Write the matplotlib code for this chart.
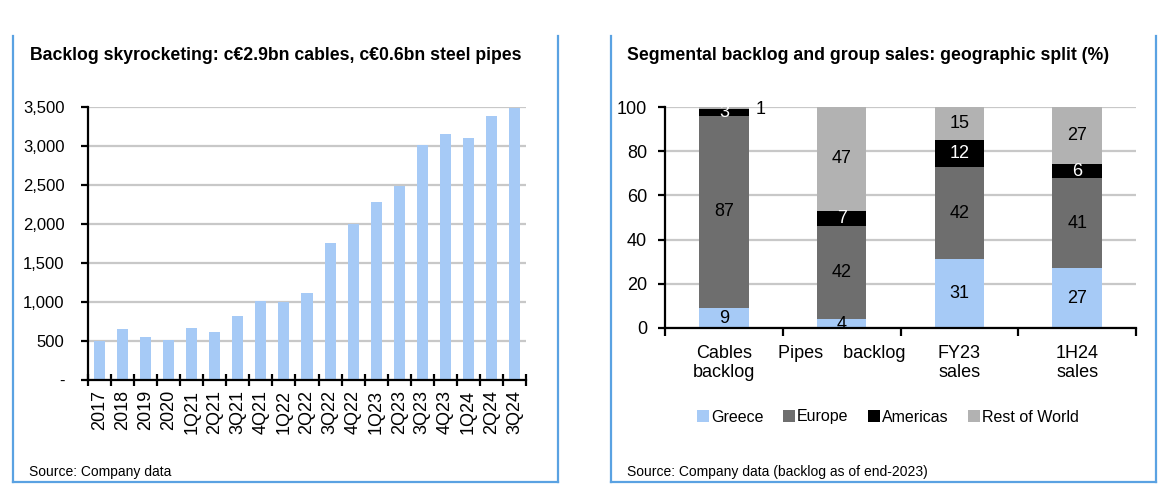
import matplotlib
matplotlib.use("Agg")
import matplotlib.pyplot as plt
from matplotlib.lines import Line2D
from matplotlib.patches import Patch
from matplotlib.ticker import FuncFormatter
from matplotlib import font_manager

# ---------------- data ----------------
periods = ["2017", "2018", "2019", "2020", "1Q21", "2Q21", "3Q21", "4Q21",
           "1Q22", "2Q22", "3Q22", "4Q22", "1Q23", "2Q23", "3Q23", "4Q23",
           "1Q24", "2Q24", "3Q24"]
backlog = [500, 650, 545, 515, 665, 615, 815, 1010, 1005, 1110, 1760, 2005,
           2280, 2485, 3010, 3160, 3105, 3385, 3490]

segments = ["Cables\nbacklog", "Pipes    backlog", "FY23\nsales", "1H24\nsales"]
greece = [9, 4, 31, 27]
europe = [87, 42, 42, 41]
americas = [3, 7, 12, 6]
rest_world = [1, 47, 15, 27]
series_names = ["Greece", "Europe", "Americas", "Rest of World"]

# ---------------- style ----------------
avail = {f.name for f in font_manager.fontManager.ttflist}
fam = ["Liberation Sans Narrow", "Liberation Sans", "DejaVu Sans"]
fam = [f for f in fam if f in avail] or ["DejaVu Sans"]
plt.rcParams["font.family"] = fam

W, H = 1167, 492
fig = plt.figure(figsize=(W / 100, H / 100), dpi=100)

def fx(px):
    return px / W

def fy(py):
    return 1 - py / H

border_col = "#5aa2e2"
bar_col = "#a6caf6"
grid_col = "#c8c8c8"
c_greece, c_europe, c_amer, c_row = "#a6caf6", "#6e6e6e", "#000000", "#b2b2b2"

# panel borders (no top edge)
for (x0, x1) in [(12.5, 558), (611, 1156)]:
    fig.add_artist(Line2D([fx(x0), fx(x0)], [fy(36), fy(482)], color=border_col, lw=1.6))
    fig.add_artist(Line2D([fx(x1), fx(x1)], [fy(36), fy(482)], color=border_col, lw=1.6))
    fig.add_artist(Line2D([fx(x0), fx(x1)], [fy(482), fy(482)], color=border_col, lw=1.6))

# ---------------- left chart ----------------
axL = fig.add_axes([fx(88), fy(380), fx(526 - 88), (380 - 107) / H])
xs = list(range(len(periods)))
axL.bar(xs, backlog, width=0.48, color=bar_col, zorder=2)
axL.set_xlim(-0.5, len(periods) - 0.5)
axL.set_ylim(0, 3500)
axL.set_yticks(range(0, 3501, 500))
axL.yaxis.set_major_formatter(FuncFormatter(lambda v, p: "-" if v == 0 else f"{int(v):,}"))
axL.grid(axis="y", color=grid_col, lw=1.6, zorder=0)
axL.set_axisbelow(True)
for s in ["top", "right"]:
    axL.spines[s].set_visible(False)
axL.spines["left"].set_linewidth(1.6)
axL.spines["bottom"].set_linewidth(1.6)
axL.set_xticks(xs)
axL.set_xticklabels(periods, rotation=90, fontsize=13)
axL.tick_params(axis="x", length=0, pad=7)
axL.set_xticks([i - 0.5 for i in range(len(periods) + 1)], minor=True)
axL.tick_params(axis="x", which="minor", length=8, direction="inout", width=1.6)
axL.tick_params(axis="y", length=5, width=1.6, labelsize=12, pad=12)

fig.text(fx(30), fy(55), "Backlog skyrocketing: c€2.9bn cables, c€0.6bn steel pipes",
         fontsize=12.7, fontweight="bold", va="center", ha="left")
fig.text(fx(29), fy(472), "Source: Company data", fontsize=10, va="center", ha="left")

# ---------------- right chart ----------------
axR = fig.add_axes([fx(665), fy(328), fx(1136 - 665), (328 - 107) / H])
xr = list(range(len(segments)))
bw = 0.42
stack_vals = [greece, europe, americas, rest_world]
colors = [c_greece, c_europe, c_amer, c_row]
bottoms = [0] * len(segments)
containers = []
for vals, col, name in zip(stack_vals, colors, series_names):
    bc = axR.bar(xr, vals, width=bw, bottom=bottoms, color=col, label=name, zorder=2)
    containers.append(bc)
    bottoms = [b + v for b, v in zip(bottoms, vals)]

# value labels
txt_col = ["black", "black", "white", "black"]
for si, (vals, bc) in enumerate(zip(stack_vals, containers)):
    for ci, (v, rect) in enumerate(zip(vals, bc)):
        y0 = rect.get_y()
        h = rect.get_height()
        if si == 3 and ci == 0:
            axR.text(ci + bw / 2 + 0.1, 99, str(v), ha="center", va="center",
                     fontsize=13, color="black", clip_on=False)
            continue
        yc = y0 + min(h, 100 - y0) / 2
        if si == 0 and ci == 1:
            yc = 1.5
        axR.text(ci, yc, str(v), ha="center", va="center", fontsize=13,
                 color=txt_col[si], zorder=3)

axR.set_xlim(-0.5, len(segments) - 0.5)
axR.set_ylim(0, 100)
axR.set_yticks(range(0, 101, 20))
axR.grid(axis="y", color=grid_col, lw=1.6, zorder=0)
axR.set_axisbelow(True)
for s in ["top", "right"]:
    axR.spines[s].set_visible(False)
axR.spines["left"].set_linewidth(1.6)
axR.spines["bottom"].set_linewidth(1.6)
axR.set_xticks(xr)
axR.set_xticklabels(segments, fontsize=13, linespacing=1.2)
axR.tick_params(axis="x", length=0, pad=12)
axR.set_xticks([i - 0.5 for i in range(len(segments) + 1)], minor=True)
axR.tick_params(axis="x", which="minor", length=6, direction="out", width=1.6)
axR.tick_params(axis="y", length=5, width=1.6, labelsize=13, pad=8)

handles = [Patch(facecolor=c, edgecolor="none") for c in colors]
fig.legend(handles, series_names, loc="center", bbox_to_anchor=(fx(888), fy(417)),
           ncol=4, frameon=False, fontsize=11.5, handlelength=0.75, handleheight=0.75,
           handletextpad=0.15, columnspacing=1.2)

fig.text(fx(627), fy(55), "Segmental backlog and group sales: geographic split (%)",
         fontsize=12.7, fontweight="bold", va="center", ha="left")
fig.text(fx(627), fy(472), "Source: Company data (backlog as of end-2023)",
         fontsize=10, va="center", ha="left")

fig.savefig("out.png", dpi=100)
